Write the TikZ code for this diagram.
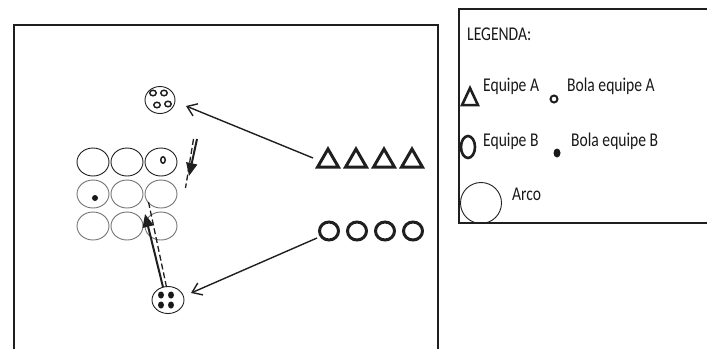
\documentclass[tikz,border=0pt]{standalone}
\usepackage{fontspec}
\setmainfont{Carlito}
\usetikzlibrary{shapes.geometric,arrows.meta}
\newcommand{\legtext}[1]{\scalebox{0.8}[1]{\fontsize{19.5}{22}\selectfont #1}}
\begin{document}
\begin{tikzpicture}[x=1pt,y=-1pt,
  ink/.style={draw=black!88},
  field/.style={ink, line width=2.6pt},
  legbox/.style={ink, line width=1.8pt},
  goal/.style={ink, ellipse, minimum width=32pt, minimum height=28pt, inner sep=0pt, line width=0.9pt},
  goalfaint/.style={goal, draw=black!55},
  teamA/.style={ink, regular polygon, regular polygon sides=3, minimum size=24pt, inner sep=0pt, line width=3pt},
  teamB/.style={ink, ellipse, minimum width=19pt, minimum height=18pt, inner sep=0pt, line width=3pt},
  ballA/.style={ink, ellipse, minimum width=6.5pt, minimum height=5.5pt, inner sep=0pt, line width=1.5pt},
  ballB/.style={fill=black!90, ellipse, minimum width=6pt, minimum height=7pt, inner sep=0pt},
  group/.style={ink, ellipse, inner sep=0pt, line width=0.9pt},
  move/.style={ink, line width=1.4pt, -{Straight Barb[length=9pt,width=13pt,line width=1.4pt]}},
  pass/.style={ink, line width=2pt, -{Triangle[length=13pt,width=11pt]}},
  passtrail/.style={ink, line width=1.3pt, dashed, dash pattern=on 6pt off 3pt},
  legtxt/.style={anchor=base west, inner sep=0pt, text=black!90}
]
\useasboundingbox (0,0) rectangle (711,349);

% playing field (open at the bottom)
\draw[field] (14,349) -- (14,25) -- (438,25) -- (438,349);

% goals: three rows of three
\foreach \c [count=\i] in {93,127,161}{
  \node[goal] (g1\i) at (\c,162) {};
  \node[goalfaint] (g2\i) at (\c,194) {};
  \node[goalfaint] (g3\i) at (\c,226) {};
}
\node[ballA, minimum width=4.5pt, minimum height=6.5pt] (bA0) at (163,160) {};
\node[ballB, minimum width=6pt, minimum height=6pt] (bB0) at (95,198) {};

% team A group holding the balls
\node[group, minimum width=30pt, minimum height=27pt] (grpA) at (160,100) {};
\node[ballA] (bA1) at (153,93) {};
\node[ballA] (bA2) at (164,93) {};
\node[ballA] (bA3) at (157,105) {};
\node[ballA] (bA4) at (168,104) {};

% team B group holding the balls
\node[group, minimum width=32pt, minimum height=27pt] (grpB) at (168,300) {};
\node[ballB] (bB1) at (161,295) {};
\node[ballB] (bB2) at (171,295) {};
\node[ballB] (bB3) at (161,305) {};
\node[ballB] (bB4) at (171,305) {};

% team A row
\foreach \x [count=\i] in {328,356,384,412}
  \node[teamA] (tA\i) at (\x,161) {};
% team B row
\foreach \x [count=\i] in {329,357,385,413}
  \node[teamB] (tB\i) at (\x,231) {};

% runs to the ball groups
\coordinate (runA) at (313,158);
\coordinate (runB) at (317,238);
\coordinate (tipA) at (186,106);
\coordinate (tipB) at (191,293);
\draw[move] (runA) -- (tipA);
\draw[move] (runB) -- (tipB);

% passes into the goals
\coordinate (pA0) at (197,139);
\coordinate (pA1) at (189,176);
\draw[passtrail] ([xshift=-3.5pt]pA0) -- ([xshift=-3.5pt,yshift=-12pt]pA1);
\draw[pass] (pA0) -- (pA1);
\coordinate (pB0) at (163,287);
\coordinate (pB1) at (145,214);
\draw[passtrail] ([xshift=3.5pt]pB0) -- ([xshift=3.5pt,yshift=12pt]pB1);
\draw[pass] (pB0) -- (pB1);

% legend
\draw[legbox] (707,9) -- (459,9) -- (459,223) -- (707,223);
\node[legtxt] (lgTitle) at (467,40) {\legtext{LEGENDA:}};
\node[ink, isosceles triangle, isosceles triangle apex angle=50, shape border rotate=90, minimum height=17pt, inner sep=0pt, line width=2.6pt] (lgA) at (470,100) {};
\node[legtxt] (lgAt) at (483,91) {\legtext{Equipe A}};
\node[ink, circle, minimum size=7pt, inner sep=0pt, line width=2pt] (lgBA) at (554,99) {};
\node[legtxt] (lgBAt) at (567,91) {\legtext{Bola equipe A}};
\node[ink, ellipse, minimum width=14pt, minimum height=22pt, inner sep=0pt, line width=2.6pt] (lgB) at (468,147) {};
\node[legtxt] (lgBt) at (483,146) {\legtext{Equipe B}};
\node[ballB, minimum width=7pt, minimum height=9pt] (lgBB) at (557,153) {};
\node[legtxt] (lgBBt) at (571,146) {\legtext{Bola equipe B}};
\node[ink, circle, minimum size=41pt, inner sep=0pt, line width=0.9pt] (lgGoal) at (481,203) {};
\node[legtxt] (lgGoalt) at (512,200) {\legtext{Arco}};
\end{tikzpicture}
\end{document}
